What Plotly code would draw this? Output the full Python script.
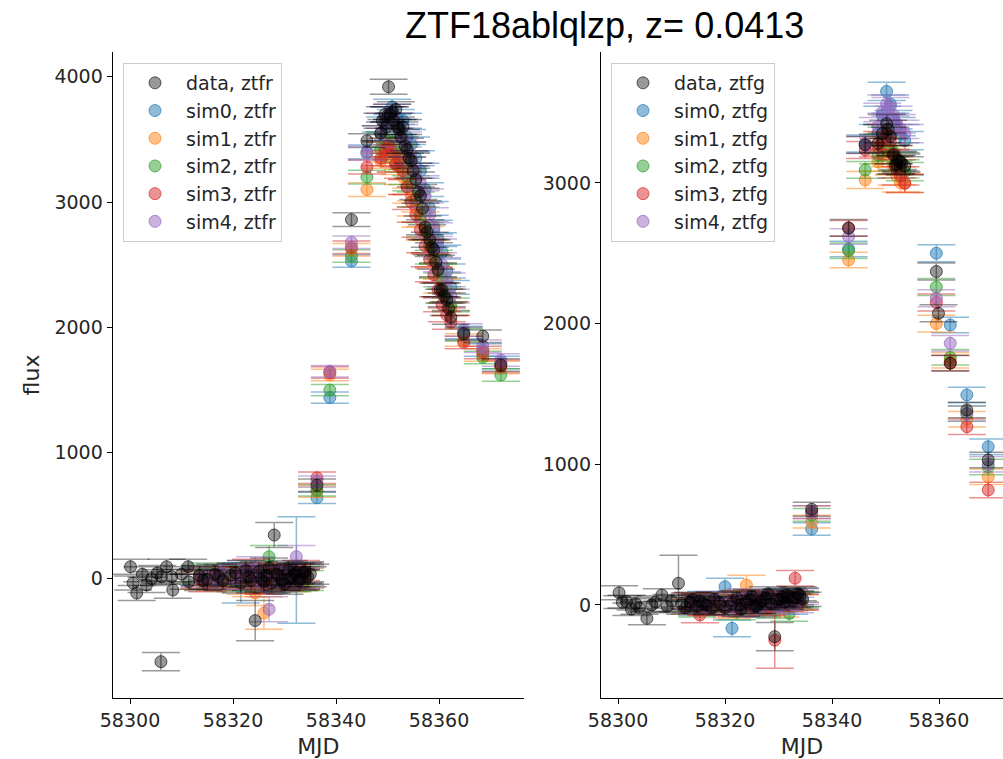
import plotly.graph_objects as go

# ---------------- r band (left panel) ----------------
data_r_mjd = [58300.1, 58300.6, 58301.3, 58302.4, 58303.2, 58304.2, 58305.3, 58306.0, 58306.1, 58307.1,
              58308.1, 58308.3, 58310.0, 58311.3, 58311.4,
              58313.5, 58314.2, 58315.0, 58316.5, 58317.2, 58318.0, 58319.5, 58320.5, 58321.5, 58322.5,
              58323.0, 58323.5, 58324.3, 58325.0, 58325.5, 58326.0, 58326.5, 58327.0, 58327.5, 58328.0,
              58328.5, 58329.0, 58329.5, 58330.0, 58330.8, 58331.0, 58331.5, 58332.0, 58332.3, 58332.8,
              58333.2, 58333.6, 58334.0, 58334.5, 58335.0,
              58336.3, 58343.0, 58346.0,
              58348.7, 58349.0, 58349.5, 58349.8, 58350.2, 58350.5, 58350.9, 58351.2, 58351.6, 58351.9,
              58352.3, 58352.6, 58353.0, 58353.4, 58353.8, 58354.2, 58354.6, 58355.0, 58355.5, 58356.0,
              58356.4, 58356.8, 58357.3, 58357.7, 58358.2, 58358.6, 58359.0, 58359.4, 58359.8, 58360.2,
              58360.6, 58361.0, 58361.5, 58361.9, 58362.3, 58364.8, 58368.5, 58372.0]
data_r_flux = [90, -40, -120, 30, -55, -5, 40, -668, 10, 90,
               10, -96, 30, 90, -30,
               20, -20, -10, 30, 10, -20, 20, 40, -40, 60,
               10, -20, -340, 50, -10, -30, 20, 80, -40, 343,
               30, 20, -20, -50, 60, 0, 10, 30, 40, -20,
               -10, 40, 50, 10, 30,
               740, 2860, 3490,
               3550, 3650, 3700, 3600, 3920, 3700, 3720, 3650, 3740, 3600,
               3580, 3520, 3600, 3450, 3420, 3350, 3330, 3250, 3180, 3080,
               3050, 2950, 2800, 2760, 2700, 2640, 2620, 2520, 2460, 2300,
               2300, 2250, 2220, 2150, 2080, 1950, 1930, 1700]
data_r_err = [60, 55, 60, 60, 60, 55, 60, 73, 55, 60,
              60, 65, 60, 60, 60,
              80, 80, 80, 80, 80, 80, 80, 80, 80, 80,
              80, 80, 160, 80, 80, 80, 80, 80, 80, 100,
              80, 80, 80, 80, 80, 80, 80, 80, 80, 80,
              80, 80, 80, 80, 80,
              50, 55, 55,
              60, 60, 60, 60, 60, 60, 60, 60, 60, 60,
              60, 60, 60, 60, 60, 60, 60, 60, 60, 60,
              60, 60, 60, 60, 60, 60, 55, 55, 55, 55,
              55, 55, 55, 55, 55, 50, 50, 50]

sim_r_mjd = [58313.5, 58315.0, 58316.5, 58318.0, 58320.5, 58321.5, 58322.5, 58323.5, 58324.3, 58325.0,
             58326.0, 58327.0, 58328.0, 58329.0, 58330.0, 58330.8, 58331.5, 58332.3, 58333.2, 58334.0,
             58336.3, 58338.8, 58343.0, 58346.0,
             58348.7, 58349.5, 58350.2, 58350.9, 58351.6, 58352.3, 58353.0, 58353.8, 58354.6, 58355.5,
             58356.4, 58357.3, 58358.2, 58359.0, 58359.8, 58360.6, 58361.5, 58362.3, 58364.8, 58368.5, 58372.0]

sim0_r_flux = [10, -20, 20, 0, 30, -40, 40, 10, -20, 30, 0, -40, 20, -30, 50, 10, -20, 64, 30, 20,
               640, 1440, 2530, 3400,
               3500, 3620, 3700, 3760, 3680, 3600, 3650, 3520, 3460, 3350,
               3250, 3100, 2950, 2800, 2700, 2600, 2450, 2320, 1960, 1820, 1720]
sim1_r_flux = [-20, 10, -30, 20, 0, 30, -50, -60, -120, 40, -280, 20, -10, 30, 0, -30, 20, 10, -20, 30,
               690, 1620, 2620, 3100,
               3330, 3380, 3420, 3350, 3300, 3280, 3200, 3120, 3050, 2950,
               2860, 2750, 2640, 2540, 2450, 2330, 2250, 2150, 1900, 1780, 1680]
sim2_r_flux = [30, 50, -10, 10, -30, 20, 0, 40, 60, -20, 10, 170, 30, -10, 20, 40, -30, 0, 10, -20,
               700, 1500, 2570, 3200,
               3420, 3500, 3450, 3480, 3400, 3380, 3300, 3200, 3150, 3020,
               2900, 2780, 2650, 2560, 2450, 2380, 2250, 2180, 1940, 1760, 1620]
sim3_r_flux = [-10, -40, 20, -20, 10, 0, 30, 60, -30, 10, -50, 20, 40, 0, -20, 30, 10, -10, 60, 0,
               800, 1640, 2640, 3280,
               3350, 3420, 3450, 3400, 3300, 3340, 3250, 3120, 3000, 2900,
               2780, 2650, 2540, 2420, 2300, 2180, 2100, 2040, 1880, 1800, 1690]
sim4_r_flux = [0, 20, -20, 40, -10, 30, 60, 20, 80, -20, 10, -250, 10, -30, 20, 30, 0, 170, -10, 40,
               770, 1650, 2680, 3390,
               3550, 3650, 3700, 3720, 3650, 3560, 3500, 3420, 3350, 3250,
               3150, 3050, 2900, 2780, 2650, 2500, 2380, 2250, 1980, 1850, 1740]

sim0_r_err = [70, 70, 70, 70, 80, 160, 80, 80, 90, 80, 80, 80, 80, 80, 80, 80, 80, 425, 80, 80,
              45, 45, 50, 55, 60, 60, 60, 60, 60, 60, 60, 60, 60, 60, 60, 55, 55, 55, 55, 55, 55, 55, 50, 50, 50]
sim1_r_err = [70, 70, 70, 70, 80, 80, 80, 90, 100, 80, 130, 80, 80, 80, 80, 80, 80, 80, 80, 80,
              45, 45, 50, 55, 60, 60, 60, 60, 60, 60, 60, 60, 60, 60, 60, 55, 55, 55, 55, 55, 55, 55, 50, 50, 50]
sim2_r_err = [70, 70, 70, 70, 80, 80, 80, 80, 80, 80, 80, 90, 80, 80, 80, 80, 80, 80, 80, 80,
              45, 45, 50, 55, 60, 60, 60, 60, 60, 60, 60, 60, 60, 60, 60, 55, 55, 55, 55, 55, 55, 55, 50, 50, 50]
sim3_r_err = [70, 70, 70, 70, 80, 80, 80, 90, 90, 80, 80, 80, 80, 80, 80, 80, 80, 80, 80, 80,
              45, 45, 50, 55, 60, 60, 60, 60, 60, 60, 60, 60, 60, 60, 60, 55, 55, 55, 55, 55, 55, 55, 50, 50, 50]
sim4_r_err = [70, 70, 70, 70, 80, 80, 80, 90, 90, 80, 80, 100, 80, 80, 80, 80, 80, 90, 80, 80,
              45, 45, 50, 55, 60, 60, 60, 60, 60, 60, 60, 60, 60, 60, 60, 55, 55, 55, 55, 55, 55, 55, 50, 50, 50]

# ---------------- g band (right panel) ----------------
data_g_mjd = [58300.2, 58300.8, 58301.6, 58302.5, 58303.3, 58304.0, 58305.4, 58306.3, 58307.0, 58308.2,
              58309.2, 58310.0, 58311.3, 58311.9, 58312.6,
              58313.5, 58314.0, 58314.8, 58315.3, 58316.0, 58316.5, 58317.5, 58318.0, 58319.0, 58320.0,
              58321.3, 58322.2, 58322.8, 58323.0, 58324.0, 58324.6, 58325.0, 58325.5, 58326.0, 58326.6,
              58327.0, 58327.6, 58328.0, 58328.6, 58329.3, 58329.8, 58330.3, 58330.8, 58331.2, 58331.6,
              58332.0, 58332.6, 58333.1, 58333.6, 58334.0, 58334.5,
              58336.2, 58343.1, 58346.2,
              58348.6, 58349.4, 58350.2, 58350.5, 58350.9, 58351.5, 58351.8, 58352.1, 58352.3, 58352.8,
              58353.0, 58353.6,
              58359.5, 58359.9, 58362.1, 58365.2, 58369.2]
data_g_flux = [87, 20, 24, -30, 10, -20, -95, 0, 20, 71,
               -10, 30, 154, 10, -20,
               20, 40, -10, 30, 10, 0, -20, 40, 10, -20,
               10, 50, 0, -30, 20, 40, 60, -10, -10, 20,
               30, 50, 80, 10, -225, 30, 40, 60, 20, 70,
               60, 30, 50, 80, 70, 40,
               680, 2680, 3270,
               3280, 3350, 3420, 3380, 3330, 3200, 3127, 3130, 3160, 3150,
               3140, 3120,
               2370, 2073, 1718, 1386, 1031]
data_g_err = [50, 45, 45, 45, 45, 45, 45, 45, 45, 45,
              45, 45, 200, 45, 45,
              50, 50, 50, 50, 50, 50, 50, 50, 50, 50,
              50, 50, 50, 50, 50, 50, 50, 50, 50, 50,
              50, 50, 50, 50, 100, 50, 50, 50, 50, 50,
              50, 50, 50, 50, 50, 50,
              50, 60, 60,
              65, 65, 65, 65, 65, 65, 65, 65, 65, 65,
              65, 65,
              60, 60, 55, 55, 55]

sim_g_mjd = [58313.5, 58314.8, 58315.3, 58316.5, 58318.0, 58320.0, 58321.3, 58322.2, 58323.0, 58324.0,
             58325.0, 58326.0, 58327.0, 58328.0, 58329.3, 58330.3, 58331.2, 58332.0, 58333.1, 58334.0,
             58336.2, 58343.1, 58346.2,
             58348.6, 58349.4, 58350.2, 58350.9, 58351.5, 58352.1, 58352.8, 58353.6,
             58359.5, 58362.1, 58365.2, 58369.2]

sim0_g_flux = [30, -20, 10, 40, -10, 130, -166, 20, 50, -30, 10, 40, -20, 30, 0, 60, 20, -10, 40, 30,
               540, 2530, 3280,
               3350, 3480, 3650, 3560, 3450, 3400, 3350, 3300,
               2500, 1990, 1493, 1125]
sim1_g_flux = [-10, 20, 30, -20, 0, 10, -40, 20, 50, 142, -20, 30, 10, -10, 20, -30, 40, 10, 30, 20,
               592, 2452, 3020,
               3150, 3200, 3260, 3180, 3120, 3050, 3000, 2997,
               2000, 1740, 1320, 912]
sim2_g_flux = [10, -30, 0, 20, -10, 30, 10, -50, 20, 40, -20, 10, -30, 20, -40, 10, 30, -60, 20, 40,
               640, 2518, 3092,
               3200, 3280, 3330, 3250, 3220, 3150, 3100, 3080,
               2260, 1760, 1360, 980]
sim3_g_flux = [30, 10, -71, -20, 30, 0, 20, -30, 40, 10, -10, 50, 20, -20, -250, 30, 10, 40, 190, 20,
               660, 2677, 3234,
               3250, 3300, 3350, 3300, 3200, 3100, 3050, 2997,
               2150, 1720, 1267, 817]
sim4_g_flux = [0, 12, 20, -10, 40, 10, -20, 30, 0, 60, 20, -30, 40, 10, 30, -10, 50, 20, 0, 60,
               660, 2618, 3269,
               3400, 3500, 3560, 3541, 3480, 3420, 3380, 3350,
               2180, 1860, 1360, 1000]

sim0_g_err = [55, 55, 55, 55, 55, 60, 60, 55, 55, 55, 55, 55, 55, 55, 55, 55, 55, 55, 55, 55,
              45, 55, 60, 65, 65, 65, 65, 65, 65, 65, 65, 60, 55, 55, 55]
sim1_g_err = [55, 55, 55, 55, 55, 55, 55, 55, 55, 70, 55, 55, 55, 55, 55, 55, 55, 55, 55, 55,
              45, 55, 60, 65, 65, 65, 65, 65, 65, 65, 65, 60, 55, 55, 55]
sim2_g_err = [55, 55, 55, 55, 55, 55, 55, 55, 55, 55, 55, 55, 55, 55, 55, 55, 55, 55, 55, 55,
              45, 55, 60, 65, 65, 65, 65, 65, 65, 65, 65, 60, 55, 55, 55]
sim3_g_err = [55, 55, 55, 55, 55, 55, 55, 55, 55, 55, 55, 55, 55, 55, 200, 55, 55, 55, 55, 55,
              45, 55, 60, 65, 65, 65, 65, 65, 65, 65, 65, 60, 55, 55, 55]
sim4_g_err = [55, 55, 55, 55, 55, 55, 55, 55, 55, 55, 55, 55, 55, 55, 55, 55, 55, 55, 55, 55,
              45, 55, 60, 65, 65, 65, 65, 65, 65, 65, 65, 60, 55, 55, 55]

title_text = "ZTF18ablqlzp, z= 0.0413"
x_ticks = [58300, 58320, 58340, 58360]
y_ticks_r = [0, 1000, 2000, 3000, 4000]
y_ticks_g = [0, 1000, 2000, 3000]

# ---------------- styling ----------------
series_rgb = {
    "data": (0, 0, 0),
    "sim0": (31, 119, 180),
    "sim1": (255, 127, 14),
    "sim2": (44, 160, 44),
    "sim3": (214, 39, 40),
    "sim4": (148, 103, 189),
}
alpha_of = {"data": 0.4, "sim0": 0.5, "sim1": 0.5, "sim2": 0.5, "sim3": 0.5, "sim4": 0.5}
rank_of = {"data": 1, "sim0": 2, "sim1": 3, "sim2": 4, "sim3": 5, "sim4": 6}


def rgba(name, a):
    r, g, b = series_rgb[name]
    return f"rgba({r},{g},{b},{a})"


fig = go.Figure()


def add_series(name, band, xs, ys, errs, xa, ya, legend):
    a = alpha_of[name]
    fig.add_trace(go.Scatter(
        x=xs, y=ys, mode="markers", name=f"{name}, {band}",
        xaxis=xa, yaxis=ya, legend=legend, legendrank=rank_of[name],
        marker=dict(size=12, color=rgba(name, a), line=dict(color=rgba(name, min(1, a + 0.2)), width=1)),
        error_y=dict(type="data", array=errs, visible=True, color=rgba(name, a), thickness=1.5, width=19),
        hoverinfo="x+y",
    ))


r_sets = [
    ("sim0", sim_r_mjd, sim0_r_flux, sim0_r_err),
    ("sim1", sim_r_mjd, sim1_r_flux, sim1_r_err),
    ("sim2", sim_r_mjd, sim2_r_flux, sim2_r_err),
    ("sim3", sim_r_mjd, sim3_r_flux, sim3_r_err),
    ("sim4", sim_r_mjd, sim4_r_flux, sim4_r_err),
    ("data", data_r_mjd, data_r_flux, data_r_err),
]
g_sets = [
    ("sim0", sim_g_mjd, sim0_g_flux, sim0_g_err),
    ("sim1", sim_g_mjd, sim1_g_flux, sim1_g_err),
    ("sim2", sim_g_mjd, sim2_g_flux, sim2_g_err),
    ("sim3", sim_g_mjd, sim3_g_flux, sim3_g_err),
    ("sim4", sim_g_mjd, sim4_g_flux, sim4_g_err),
    ("data", data_g_mjd, data_g_flux, data_g_err),
]
for name, xs, ys, es in r_sets:
    add_series(name, "ztfr", xs, ys, es, "x", "y", "legend")
for name, xs, ys, es in g_sets:
    add_series(name, "ztfg", xs, ys, es, "x2", "y2", "legend2")

W, H = 1003, 759
tick_font = dict(family="DejaVu Sans", size=19, color="#262626")
label_font = dict(family="DejaVu Sans", size=22, color="#262626")
axis_common = dict(showline=True, linecolor="black", linewidth=1.3, mirror=False,
                   ticks="outside", ticklen=5, tickwidth=1.2, tickcolor="black",
                   showgrid=False, zeroline=False, tickfont=tick_font, automargin=False)

y_dom = [1 - 698 / H, 1 - 52 / H]
legend_common = dict(bgcolor="rgba(255,255,255,0.85)", bordercolor="#cccccc", borderwidth=1,
                     font=dict(family="DejaVu Sans", size=19, color="#262626"),
                     xanchor="left", yanchor="top", itemwidth=52, tracegroupgap=0)

fig.update_layout(
    width=W, height=H, margin=dict(l=0, r=0, t=0, b=0, autoexpand=False),
    paper_bgcolor="white", plot_bgcolor="white", showlegend=True,
    xaxis=dict(domain=[112.7 / W, 524 / W], range=[58296.64, 58376.5], tickvals=x_ticks, tickformat="d",
               title=dict(text="MJD", font=label_font, standoff=8), anchor="y", **axis_common),
    yaxis=dict(domain=y_dom, range=[-957.7, 4197.9], tickvals=y_ticks_r,
               title=dict(text="flux", font=label_font, standoff=8), anchor="x", **axis_common),
    xaxis2=dict(domain=[601 / W, 1.0], range=[58296.82, 58371.96], tickvals=x_ticks, tickformat="d",
                title=dict(text="MJD", font=label_font, standoff=8), anchor="y2", **axis_common),
    yaxis2=dict(domain=y_dom, range=[-661, 3930], tickvals=y_ticks_g, anchor="x2", **axis_common),
    legend=dict(x=123 / W, y=1 - 63 / H, **legend_common),
    legend2=dict(x=611 / W, y=1 - 63 / H, **legend_common),
    annotations=[dict(text=title_text, x=604 / W, y=1 - 26 / H, xref="paper", yref="paper",
                      xanchor="center", yanchor="middle", showarrow=False,
                      font=dict(family="Liberation Sans", size=36, color="black"))],
)

fig.write_html("out.html")
